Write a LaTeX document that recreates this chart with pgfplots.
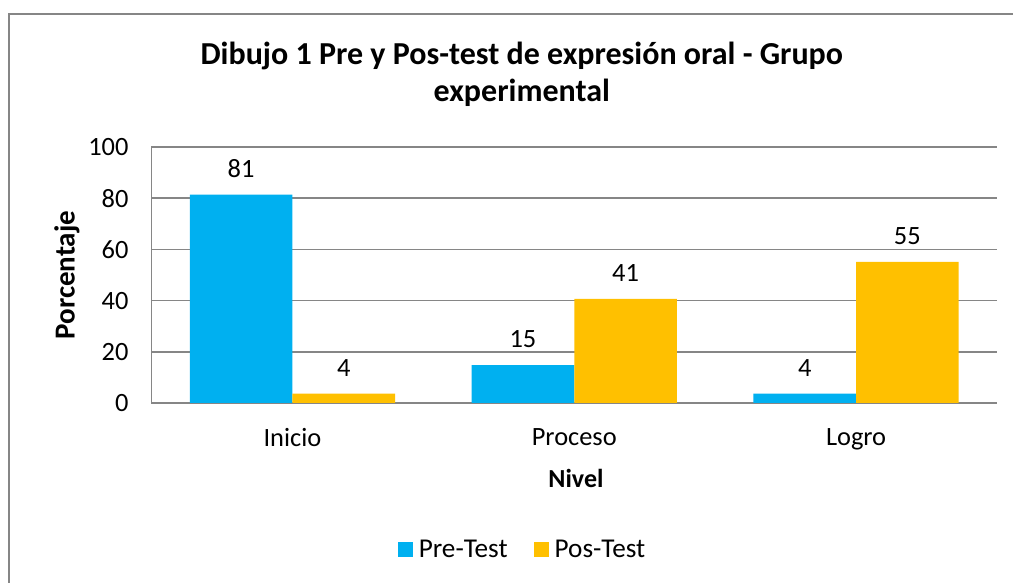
\documentclass[border=0pt]{standalone}
\usepackage{pgfplots}
\pgfplotsset{compat=1.18}
\usepackage{fontspec}
\setmainfont{Carlito}
\definecolor{preC}{HTML}{00B0F0}
\definecolor{posC}{HTML}{FFC000}
\definecolor{lineC}{HTML}{868686}
\begin{document}
\begin{tikzpicture}
\clip (0,0) rectangle (506.5pt,291.5pt);
\fill[white] (0,0) rectangle (506.5pt,291.5pt);
\draw[lineC, line width=1.2pt] (4.5pt,-10pt) -- (4.5pt,284.5pt) -- (600pt,284.5pt);
\begin{axis}[
  at={(75.75pt,90pt)}, anchor=south west,
  scale only axis, width=422.75pt, height=128pt,
  xmin=-0.5, xmax=2.5, ymin=0, ymax=100,
  ytick={0,20,...,100},
  xtick={0,1,2}, xticklabels={Inicio,Proceso,Logro},
  major tick length=0pt,
  axis x line*=bottom, axis y line*=left,
  axis line style={lineC, line width=0.8pt, -},
  ymajorgrids, grid style={lineC, line width=0.8pt},
  ybar, bar width=0.364,
  /pgf/number format/assume math mode=true,
  tick label style={font=\fontsize{13.2}{15}\selectfont, black},
  yticklabel style={xshift=-8pt},
  xticklabel style={yshift=-9pt},
  nodes near coords,
  nodes near coords style={font=\fontsize{13.2}{15}\selectfont, black, /pgf/number format/fixed, /pgf/number format/precision=0, yshift=5pt},
  title={Dibujo 1 Pre y Pos-test de expresión oral - Grupo\\experimental},
  title style={font=\bfseries\fontsize{16}{18.5}\selectfont, align=center, at={(axis description cs:0.438,1.39)}, anchor=north},
  xlabel={Nivel}, xlabel style={font=\bfseries\fontsize{13}{15}\selectfont, at={(axis description cs:0.502,-0.293)}, anchor=center},
  ylabel={Porcentaje}, ylabel style={font=\bfseries\fontsize{14.5}{16}\selectfont, at={(axis description cs:-0.100,0.5)}, anchor=center, rotate=0},
  legend style={at={(axis description cs:0.440,-0.574)}, anchor=center, draw=none, legend columns=2, font=\fontsize{13.6}{15}\selectfont, /tikz/every even column/.append style={column sep=11pt}, /tikz/every odd column/.append style={column sep=1pt}},
  legend image code/.code={\fill[#1] (0cm,-3.75pt) rectangle (7.5pt,3.75pt);},
]
\addplot[fill=preC, draw=none, bar shift=-0.182] coordinates {(0,81.4) (1,14.8) (2,3.7)};
\addplot[fill=posC, draw=none, bar shift=0.182] coordinates {(0,3.7) (1,40.7) (2,55.1)};
\legend{Pre-Test,Pos-Test}
\end{axis}
\end{tikzpicture}
\end{document}
